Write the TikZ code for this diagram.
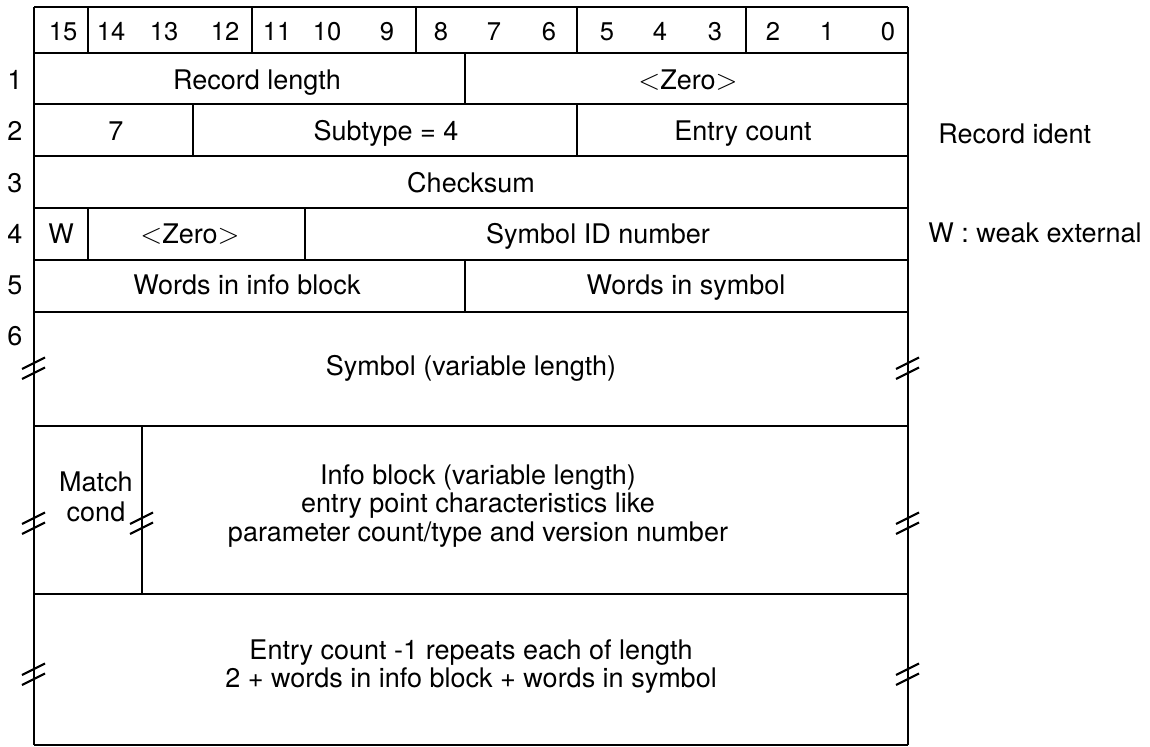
\documentclass[tikz,border=0pt]{standalone}
\usepackage{fontspec}
\setmainfont{TeX Gyre Heros}

\begin{document}
\begin{tikzpicture}[x=0.5pt,y=-0.5pt,every node/.style={inner sep=0pt,anchor=base,font=\fontsize{13.5}{14}\selectfont},
	frame/.style={line width=1.3pt},rule/.style={line width=1pt},sep/.style={line width=0.8pt},brk/.style={line width=1.1pt},
	bitno/.style={font=\fontsize{12.8}{13}\selectfont}]
	\useasboundingbox (0,0) rectangle (1150,747);
	
	% outline and word rows
	\draw[frame] (34,7) -- (34,745);
	\draw[frame] (908,7) -- (908,745);
	\foreach \y in {7,53,104,156,208,260,312,426,594,745}
		\draw[rule] (34,\y) -- (908,\y);
	
	% field dividers
	\foreach \x in {88,252,416,577,746}
		\draw[sep] (\x,7) -- (\x,53);
	\draw[sep] (465,53) -- (465,104);
	\draw[sep] (193,104) -- (193,156);
	\draw[sep] (577,104) -- (577,156);
	\draw[sep] (88,208) -- (88,260);
	\draw[sep] (305,208) -- (305,260);
	\draw[sep] (465,260) -- (465,312);
	\draw[sep] (142,426) -- (142,594);
	
	% break marks
	\foreach \x/\y in {34/368,908/368,34/523,142/523,908/523,34/674,908/674} {
		\draw[brk] (\x-12,\y+1) -- (\x+11,\y-10.5);
		\draw[brk] (\x-12,\y+11) -- (\x+11,\y-0.5);
	}
	
	% bit numbers
	\foreach \b/\x in {15/63,14/111,13/164,12/225,11/277,10/327,9/387,8/441,7/494,6/549,5/607,4/660,3/715,2/773,1/827,0/888}
		\node[bitno] (bit\b) at (\x,41) {\b};
	
	% word numbers
	\foreach \n/\y in {1/90,2/141,3/193,4/244,5/295,6/346}
		\node (word\n) at (15,\y) {\n};
	
	\node (reclen) at (257,90) {Record length};
	\node (zero1) at (688,90) {$<$Zero$>$};
	\node (seven) at (116,141) {7};
	\node (subtype) at (386,141) {Subtype = 4};
	\node (entrycnt) at (743,141) {Entry count};
	\node (checksum) at (471,193) {Checksum};
	\node (wflag) at (61,244) {W};
	\node (zero2) at (190,244) {$<$Zero$>$};
	\node (symid) at (598,244) {Symbol ID number};
	\node (infowords) at (247,295) {Words in info block};
	\node (symwords) at (686,295) {Words in symbol};
	\node (symbol) at (471,376) {Symbol (variable length)};
	\node (match) at (96,492) {Match};
	\node (cond) at (96,522) {cond};
	\node (info1) at (478,485) {Info block (variable length)};
	\node (info2) at (478,513) {entry point characteristics like};
	\node (info3) at (478,542) {parameter count/type and version number};
	\node (rep1) at (471,659) {Entry count -1 repeats each of length};
	\node (rep2) at (471,687) {2 + words in info block + words in symbol};
	
	\node[anchor=base west] (ident) at (938,144) {Record ident};
	\node[anchor=base west] (weak) at (928,243) {W : weak external};
\end{tikzpicture}
\end{document}
